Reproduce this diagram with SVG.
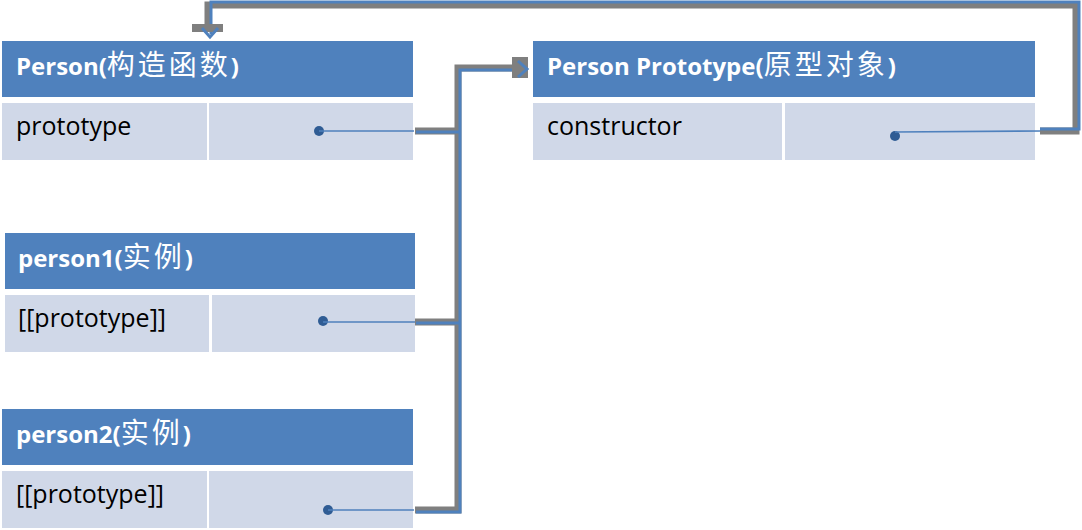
<svg xmlns="http://www.w3.org/2000/svg" width="1082" height="530" viewBox="0 0 1082 530">
<style>
.hdr{fill:#4F81BD}
.cell{fill:#D0D8E8}
.ht{font-family:"Open Sans","Noto Sans CJK SC",sans-serif;font-weight:bold;font-size:24px;fill:#fff}
.cj{font-family:"Noto Sans CJK SC",sans-serif;font-weight:normal;font-size:28px;letter-spacing:3px}
.rt{font-family:"Open Sans","Noto Sans CJK SC",sans-serif;font-size:25px;fill:#000}
.dot{fill:#2F5C94}
.thin{stroke:#4F81BD;stroke-width:1.6;fill:none}
.sh{stroke:#7F7F7F;stroke-width:7;fill:none}
.bl{stroke:#4F81BD;stroke-width:3;fill:none}
</style>
<rect width="1082" height="530" fill="#fff"/>
<g id="person">
<rect class="hdr" x="2" y="41" width="411" height="56"/>
<text class="ht" x="16" y="75">Person(<tspan class="cj">构造函数</tspan>)</text>
<rect class="cell" x="2" y="103" width="205" height="57"/>
<rect class="cell" x="209" y="103" width="204" height="57"/>
<text class="rt" x="16" y="135">prototype</text>
<circle class="dot" cx="319" cy="131" r="5"/>
<line class="thin" x1="319" y1="131" x2="414" y2="131"/>
</g>
<g id="prototype">
<rect class="hdr" x="533" y="41" width="502" height="56"/>
<text class="ht" x="547" y="75">Person Prototype(<tspan class="cj">原型对象</tspan>)</text>
<rect class="cell" x="533" y="103" width="249" height="57"/>
<rect class="cell" x="785" y="103" width="250" height="57"/>
<text class="rt" x="547" y="135">constructor</text>
<circle class="dot" cx="895" cy="136" r="5"/>
<line class="thin" x1="895" y1="132" x2="1041" y2="131"/>
</g>
<g id="person1">
<rect class="hdr" x="5" y="233" width="410" height="56"/>
<text class="ht" x="18" y="267">person1(<tspan class="cj">实例</tspan>)</text>
<rect class="cell" x="5" y="295" width="204" height="57"/>
<rect class="cell" x="212" y="295" width="203" height="57"/>
<text class="rt" x="18" y="327">[[prototype]]</text>
<circle class="dot" cx="323" cy="321" r="5"/>
<line class="thin" x1="323" y1="322" x2="416" y2="322"/>
</g>
<g id="person2">
<rect class="hdr" x="2" y="409" width="411" height="56"/>
<text class="ht" x="16" y="443">person2(<tspan class="cj">实例</tspan>)</text>
<rect class="cell" x="2" y="471" width="205" height="57"/>
<rect class="cell" x="209" y="471" width="204" height="57"/>
<text class="rt" x="16" y="503">[[prototype]]</text>
<circle class="dot" cx="328" cy="510" r="5"/>
<line class="thin" x1="328" y1="510" x2="414" y2="510"/>
</g>
<g id="connectors">
<path class="sh" d="M415 131H458M415 322H458M415 510H458V68H512"/>
<path class="bl" d="M416 132H460M416 323H460M416 512H460V70H524"/>
<rect x="512" y="57" width="16" height="21" fill="#7F7F7F"/>
<polyline class="bl" points="518,61 527,69 518,77"/>
<path class="sh" d="M1040 131H1076V5H208V28"/>
<path class="bl" d="M1040 129H1079V2H211V34"/>
<rect x="192" y="24" width="31" height="8" fill="#7F7F7F"/>
<polyline class="bl" points="202,28 210,37 218,28"/>
</g>
</svg>
